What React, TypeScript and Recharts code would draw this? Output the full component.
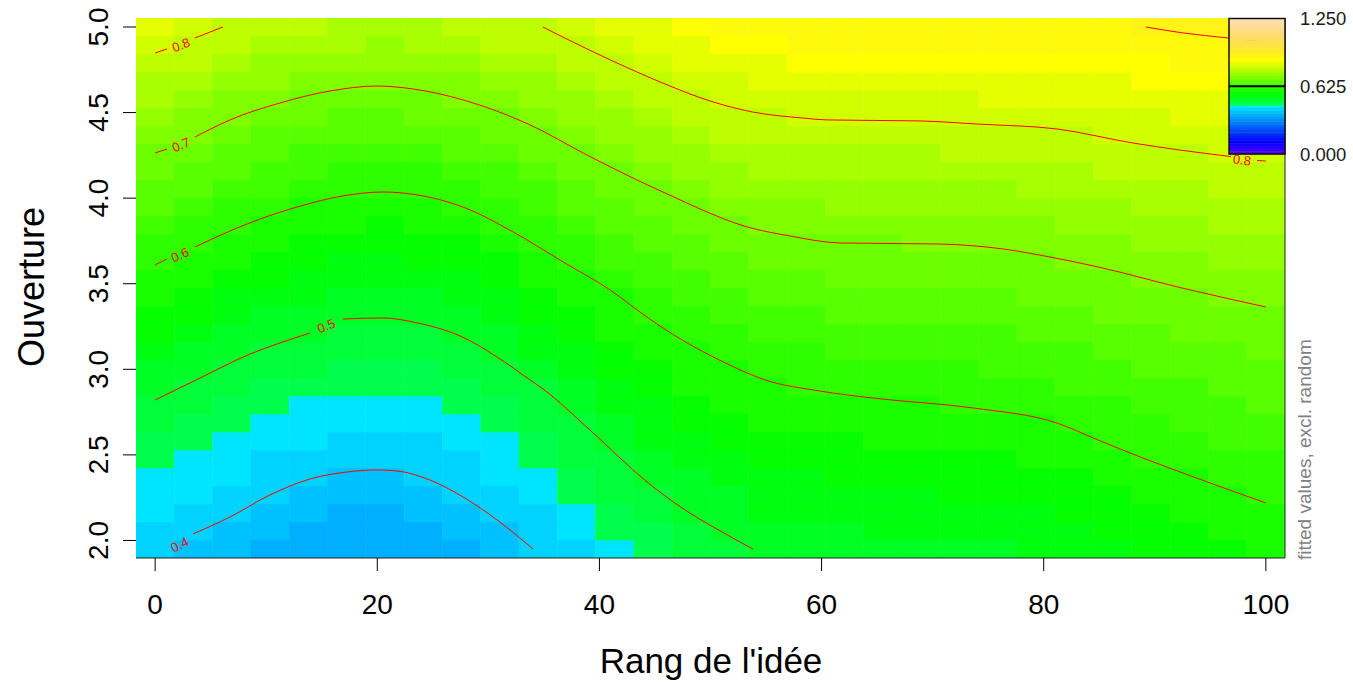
import React from 'react';
import { ComposedChart, XAxis, YAxis, Line, Scatter, ReferenceArea, ReferenceLine } from 'recharts';

const FONT = '"Liberation Sans", Arial, Helvetica, sans-serif';

// Grid of the fitted surface
const rangIdee = [0, 3.448, 6.897, 10.345, 13.793, 17.241, 20.69, 24.138, 27.586, 31.034, 34.483, 37.931, 41.379, 44.828, 48.276, 51.724, 55.172, 58.621, 62.069, 65.517, 68.966, 72.414, 75.862, 79.31, 82.759, 86.207, 89.655, 93.103, 96.552, 100];
const ouverture = [1.95, 2.055, 2.16, 2.266, 2.371, 2.476, 2.581, 2.686, 2.791, 2.897, 3.002, 3.107, 3.212, 3.317, 3.422, 3.528, 3.633, 3.738, 3.843, 3.948, 4.053, 4.159, 4.264, 4.369, 4.474, 4.579, 4.684, 4.79, 4.895, 5.0];

// Fitted values (excl. random effects): one row per rangIdee value, from lowest to highest ouverture
const fittedByRang = [
  [0.402, 0.414, 0.426, 0.438, 0.449, 0.461, 0.473, 0.485, 0.497, 0.510, 0.523, 0.536, 0.550, 0.563, 0.576, 0.590, 0.604, 0.620, 0.636, 0.652, 0.668, 0.684, 0.700, 0.718, 0.736, 0.754, 0.772, 0.790, 0.808, 0.826],
  [0.390, 0.402, 0.414, 0.425, 0.437, 0.449, 0.461, 0.473, 0.484, 0.496, 0.509, 0.523, 0.536, 0.550, 0.563, 0.577, 0.590, 0.605, 0.621, 0.637, 0.654, 0.669, 0.686, 0.702, 0.720, 0.738, 0.757, 0.775, 0.793, 0.811],
  [0.379, 0.390, 0.402, 0.414, 0.425, 0.437, 0.448, 0.460, 0.472, 0.483, 0.495, 0.508, 0.521, 0.535, 0.549, 0.563, 0.576, 0.590, 0.605, 0.621, 0.637, 0.653, 0.669, 0.686, 0.702, 0.721, 0.740, 0.758, 0.777, 0.796],
  [0.368, 0.378, 0.389, 0.400, 0.412, 0.424, 0.436, 0.448, 0.460, 0.472, 0.484, 0.496, 0.509, 0.523, 0.537, 0.551, 0.565, 0.579, 0.593, 0.608, 0.625, 0.641, 0.657, 0.674, 0.690, 0.708, 0.727, 0.747, 0.766, 0.786],
  [0.359, 0.370, 0.381, 0.391, 0.402, 0.414, 0.427, 0.439, 0.448, 0.463, 0.476, 0.488, 0.500, 0.514, 0.528, 0.542, 0.556, 0.570, 0.584, 0.598, 0.614, 0.631, 0.647, 0.664, 0.681, 0.697, 0.717, 0.737, 0.757, 0.777],
  [0.356, 0.364, 0.373, 0.386, 0.397, 0.409, 0.420, 0.432, 0.444, 0.456, 0.468, 0.479, 0.491, 0.504, 0.518, 0.533, 0.548, 0.562, 0.576, 0.591, 0.606, 0.623, 0.640, 0.657, 0.674, 0.691, 0.709, 0.730, 0.750, 0.770],
  [0.356, 0.364, 0.373, 0.385, 0.395, 0.407, 0.419, 0.431, 0.443, 0.455, 0.466, 0.478, 0.490, 0.502, 0.517, 0.531, 0.545, 0.560, 0.574, 0.588, 0.603, 0.620, 0.637, 0.654, 0.671, 0.688, 0.706, 0.726, 0.747, 0.768],
  [0.360, 0.369, 0.379, 0.389, 0.401, 0.412, 0.424, 0.436, 0.448, 0.459, 0.471, 0.483, 0.495, 0.508, 0.522, 0.536, 0.550, 0.564, 0.578, 0.592, 0.607, 0.624, 0.641, 0.658, 0.675, 0.692, 0.711, 0.732, 0.752, 0.773],
  [0.369, 0.379, 0.390, 0.401, 0.412, 0.423, 0.435, 0.446, 0.457, 0.469, 0.480, 0.491, 0.503, 0.517, 0.531, 0.545, 0.558, 0.572, 0.586, 0.600, 0.617, 0.634, 0.650, 0.667, 0.684, 0.701, 0.722, 0.743, 0.764, 0.785],
  [0.383, 0.394, 0.406, 0.417, 0.428, 0.439, 0.449, 0.461, 0.472, 0.483, 0.494, 0.506, 0.519, 0.533, 0.546, 0.560, 0.573, 0.587, 0.600, 0.616, 0.632, 0.648, 0.664, 0.680, 0.696, 0.716, 0.738, 0.759, 0.780, 0.795],
  [0.402, 0.413, 0.424, 0.435, 0.445, 0.456, 0.467, 0.477, 0.488, 0.499, 0.512, 0.525, 0.538, 0.551, 0.564, 0.577, 0.590, 0.603, 0.619, 0.634, 0.649, 0.664, 0.680, 0.695, 0.712, 0.729, 0.747, 0.764, 0.782, 0.799],
  [0.424, 0.435, 0.445, 0.455, 0.465, 0.476, 0.486, 0.496, 0.508, 0.520, 0.532, 0.545, 0.557, 0.569, 0.582, 0.594, 0.607, 0.622, 0.637, 0.652, 0.667, 0.682, 0.697, 0.713, 0.730, 0.748, 0.765, 0.782, 0.799, 0.817],
  [0.445, 0.455, 0.465, 0.476, 0.486, 0.496, 0.507, 0.518, 0.530, 0.541, 0.552, 0.564, 0.575, 0.586, 0.597, 0.611, 0.626, 0.640, 0.655, 0.669, 0.684, 0.698, 0.715, 0.732, 0.749, 0.765, 0.782, 0.799, 0.817, 0.835],
  [0.464, 0.474, 0.485, 0.495, 0.505, 0.516, 0.527, 0.538, 0.549, 0.560, 0.571, 0.582, 0.593, 0.605, 0.618, 0.632, 0.645, 0.659, 0.673, 0.686, 0.700, 0.716, 0.733, 0.749, 0.765, 0.782, 0.798, 0.815, 0.831, 0.847],
  [0.480, 0.490, 0.501, 0.511, 0.522, 0.533, 0.543, 0.554, 0.565, 0.575, 0.586, 0.596, 0.609, 0.622, 0.635, 0.648, 0.660, 0.673, 0.686, 0.699, 0.715, 0.731, 0.747, 0.763, 0.779, 0.796, 0.812, 0.828, 0.844, 0.860],
  [0.493, 0.503, 0.513, 0.524, 0.534, 0.545, 0.555, 0.565, 0.576, 0.586, 0.597, 0.608, 0.621, 0.634, 0.646, 0.659, 0.672, 0.684, 0.697, 0.712, 0.728, 0.743, 0.759, 0.775, 0.790, 0.807, 0.824, 0.841, 0.859, 0.876],
  [0.506, 0.516, 0.526, 0.536, 0.546, 0.556, 0.567, 0.577, 0.587, 0.597, 0.608, 0.620, 0.632, 0.644, 0.656, 0.668, 0.680, 0.691, 0.704, 0.720, 0.735, 0.751, 0.766, 0.782, 0.797, 0.814, 0.831, 0.849, 0.866, 0.883],
  [0.507, 0.518, 0.528, 0.538, 0.549, 0.559, 0.570, 0.580, 0.590, 0.600, 0.612, 0.624, 0.636, 0.648, 0.660, 0.672, 0.684, 0.696, 0.710, 0.725, 0.740, 0.756, 0.771, 0.786, 0.801, 0.820, 0.839, 0.857, 0.876, 0.895],
  [0.511, 0.522, 0.532, 0.542, 0.553, 0.563, 0.573, 0.583, 0.594, 0.605, 0.617, 0.629, 0.640, 0.652, 0.664, 0.676, 0.688, 0.700, 0.715, 0.729, 0.744, 0.759, 0.773, 0.788, 0.803, 0.822, 0.841, 0.859, 0.878, 0.897],
  [0.514, 0.525, 0.535, 0.545, 0.555, 0.566, 0.576, 0.586, 0.597, 0.608, 0.619, 0.631, 0.642, 0.654, 0.666, 0.677, 0.689, 0.700, 0.715, 0.730, 0.744, 0.759, 0.774, 0.788, 0.804, 0.822, 0.841, 0.860, 0.879, 0.897],
  [0.517, 0.527, 0.537, 0.547, 0.558, 0.568, 0.578, 0.589, 0.599, 0.610, 0.621, 0.633, 0.644, 0.655, 0.667, 0.678, 0.689, 0.701, 0.715, 0.730, 0.745, 0.759, 0.774, 0.789, 0.804, 0.823, 0.842, 0.860, 0.879, 0.898],
  [0.519, 0.529, 0.539, 0.550, 0.560, 0.570, 0.581, 0.591, 0.601, 0.612, 0.624, 0.635, 0.646, 0.657, 0.668, 0.680, 0.691, 0.702, 0.717, 0.732, 0.746, 0.761, 0.775, 0.790, 0.806, 0.825, 0.843, 0.862, 0.881, 0.898],
  [0.522, 0.532, 0.542, 0.553, 0.563, 0.573, 0.583, 0.594, 0.604, 0.615, 0.626, 0.637, 0.649, 0.660, 0.671, 0.682, 0.693, 0.705, 0.720, 0.734, 0.749, 0.763, 0.778, 0.793, 0.809, 0.828, 0.847, 0.865, 0.884, 0.898],
  [0.525, 0.535, 0.546, 0.556, 0.566, 0.577, 0.587, 0.597, 0.609, 0.620, 0.631, 0.642, 0.653, 0.664, 0.675, 0.686, 0.697, 0.710, 0.724, 0.738, 0.752, 0.767, 0.781, 0.795, 0.812, 0.831, 0.849, 0.868, 0.887, 0.898],
  [0.532, 0.542, 0.553, 0.563, 0.573, 0.583, 0.594, 0.604, 0.615, 0.626, 0.636, 0.647, 0.658, 0.669, 0.679, 0.690, 0.701, 0.715, 0.729, 0.743, 0.757, 0.771, 0.785, 0.799, 0.815, 0.831, 0.847, 0.864, 0.880, 0.896],
  [0.542, 0.552, 0.562, 0.572, 0.582, 0.592, 0.603, 0.613, 0.623, 0.634, 0.644, 0.654, 0.665, 0.675, 0.685, 0.695, 0.707, 0.721, 0.735, 0.749, 0.762, 0.776, 0.790, 0.804, 0.820, 0.835, 0.849, 0.867, 0.882, 0.898],
  [0.552, 0.562, 0.572, 0.582, 0.591, 0.601, 0.611, 0.621, 0.631, 0.641, 0.651, 0.661, 0.671, 0.681, 0.691, 0.701, 0.714, 0.728, 0.741, 0.755, 0.768, 0.782, 0.795, 0.810, 0.825, 0.840, 0.856, 0.871, 0.886, 0.901],
  [0.561, 0.571, 0.580, 0.590, 0.599, 0.609, 0.618, 0.628, 0.638, 0.648, 0.657, 0.667, 0.677, 0.686, 0.696, 0.708, 0.721, 0.734, 0.747, 0.760, 0.773, 0.786, 0.799, 0.814, 0.829, 0.845, 0.860, 0.875, 0.891, 0.906],
  [0.569, 0.579, 0.588, 0.597, 0.606, 0.616, 0.625, 0.635, 0.644, 0.654, 0.663, 0.672, 0.682, 0.691, 0.701, 0.714, 0.726, 0.739, 0.752, 0.764, 0.777, 0.790, 0.803, 0.818, 0.833, 0.848, 0.864, 0.879, 0.894, 0.909],
  [0.577, 0.586, 0.595, 0.604, 0.613, 0.622, 0.632, 0.641, 0.650, 0.659, 0.668, 0.678, 0.687, 0.696, 0.707, 0.719, 0.732, 0.744, 0.756, 0.769, 0.781, 0.793, 0.807, 0.822, 0.837, 0.852, 0.867, 0.882, 0.898, 0.913],
];

// Contour paths [rang, ouverture]; each level may be broken into pieces around its label
const contour04 = [[3.41, 2.038], [6.74, 2.137], [10.34, 2.266], [13.94, 2.359], [17.27, 2.4], [19.97, 2.412], [21.77, 2.406], [24.74, 2.353], [27.72, 2.254], [30.78, 2.12], [34.02, 1.95]];
const contour05a = [[0, 2.821], [4.04, 2.949], [8.54, 3.089], [11.24, 3.154], [13.94, 3.212]];
const contour05b = [[16.91, 3.294], [20.51, 3.3], [23.58, 3.271], [27.45, 3.195], [30.78, 3.072], [33.75, 2.938], [34.92, 2.885], [39.15, 2.645], [44.28, 2.342], [47.43, 2.19], [50.4, 2.073], [53.82, 1.95]];
const contour06a = [[0, 3.61], [1.07, 3.645]];
const contour06b = [[3.59, 3.715], [8.27, 3.849], [12.77, 3.948], [16.91, 4.013], [20.51, 4.036], [24.12, 4.013], [27.72, 3.948], [32.24, 3.802], [36.74, 3.627], [40.97, 3.463], [44.39, 3.3], [47.45, 3.171], [51.15, 3.043], [54.91, 2.938], [59.87, 2.873], [64.63, 2.832], [73.64, 2.774], [81.2, 2.686], [84.89, 2.587], [88.68, 2.488], [94.26, 2.353], [100, 2.219]];
const contour07a = [[0, 4.264], [1.07, 4.287]];
const contour07b = [[3.59, 4.357], [6.74, 4.457], [11.24, 4.556], [15.74, 4.626], [19.97, 4.655], [23.21, 4.638], [27.72, 4.574], [33.75, 4.428], [38.88, 4.252], [43.38, 4.106], [46.62, 4.009], [49.05, 3.937], [53.03, 3.837], [57.15, 3.779], [61.67, 3.738], [70.66, 3.732], [76.34, 3.703], [80.57, 3.656], [84.89, 3.598], [92.45, 3.475], [100, 3.364]];
const contour08a = [[0, 4.848], [1.07, 4.872]];
const contour08b = [[3.59, 4.936], [6.11, 5.0]];
const contour08c = [[34.9, 5.0], [38.88, 4.872], [43.38, 4.737], [46.35, 4.655], [49.95, 4.568], [53.82, 4.503], [58.33, 4.468], [60.49, 4.457], [68.86, 4.451], [74.0, 4.433], [81.2, 4.404], [88.04, 4.322], [92.27, 4.281], [96.86, 4.243]];
const contour08d = [[99.2, 4.22], [100, 4.217]];
const contour09 = [[89.2, 5.0], [92.56, 4.965], [96.58, 4.936], [100, 4.912]];

const contourLevels = [
  { level: 0.4, pieces: [contour04] },
  { level: 0.5, pieces: [contour05a, contour05b] },
  { level: 0.6, pieces: [contour06a, contour06b] },
  { level: 0.7, pieces: [contour07a, contour07b] },
  { level: 0.8, pieces: [contour08a, contour08b, contour08c, contour08d] },
  { level: 0.9, pieces: [contour09] },
];

// Where each contour level is written, with the text angle in degrees
const contourLabels = [
  { level: 0.4, x: 2.2, y: 1.975, angle: -26 },
  { level: 0.5, x: 15.41, y: 3.253, angle: -21 },
  { level: 0.6, x: 2.24, y: 3.668, angle: -25 },
  { level: 0.7, x: 2.33, y: 4.311, angle: -23 },
  { level: 0.8, x: 2.33, y: 4.895, angle: -21 },
  { level: 0.8, x: 97.85, y: 4.223, angle: 7 },
];

const xTicks = [0, 20, 40, 60, 80, 100];
const yTicks = [2, 2.5, 3, 3.5, 4, 4.5, 5];
const keyTicks = [0, 0.625, 1.25];
const zLimits = [0, 1.25];
const nColours = 50;

// R-style hsv() and topo.colors()
function hsv(h: number, s: number, v: number): string {
  const hh = (h * 6) % 6;
  const i = Math.floor(hh);
  const f = hh - i;
  const p = v * (1 - s);
  const q = v * (1 - s * f);
  const t = v * (1 - s * (1 - f));
  const rgb = [[v, t, p], [q, v, p], [p, v, t], [p, q, v], [t, p, v], [v, p, q]][i];
  return '#' + rgb.map((c) => Math.round(c * 255).toString(16).padStart(2, '0')).join('');
}
function seq(a: number, b: number, n: number): number[] {
  if (n === 1) return [a];
  return Array.from({ length: n }, (_, k) => a + ((b - a) * k) / (n - 1));
}
function topoColors(n: number): string[] {
  const j = Math.floor(n / 3);
  const k = Math.floor(n / 3);
  const i = n - j - k;
  const sat = seq(1, 0.3, k);
  return [
    ...seq(43 / 60, 31 / 60, i).map((h) => hsv(h, 1, 1)),
    ...seq(23 / 60, 11 / 60, j).map((h) => hsv(h, 1, 1)),
    ...seq(10 / 60, 6 / 60, k).map((h, m) => hsv(h, sat[m], 1)),
  ];
}
const palette = topoColors(nColours);
const colourOf = (v: number) => {
  const idx = Math.floor(((v - zLimits[0]) / (zLimits[1] - zLimits[0])) * nColours);
  return palette[Math.max(0, Math.min(nColours - 1, idx))];
};

// Cell edges half-way between neighbouring grid values
function cellEdges(v: number[]): [number, number][] {
  return v.map((c, i) => {
    const lo = i === 0 ? c - (v[1] - v[0]) / 2 : (v[i - 1] + c) / 2;
    const hi = i === v.length - 1 ? c + (v[i] - v[i - 1]) / 2 : (c + v[i + 1]) / 2;
    return [lo, hi];
  });
}
const xEdges = cellEdges(rangIdee);
const yEdges = cellEdges(ouverture);
const X_MIN = xEdges[0][0];
const X_MAX = xEdges[xEdges.length - 1][1];
const Y_MIN = yEdges[0][0];
const Y_MAX = yEdges[yEdges.length - 1][1];

const cells = fittedByRang.flatMap((col, i) =>
  col.map((v, j) => ({ x1: xEdges[i][0], x2: xEdges[i][1], y1: yEdges[j][0], y2: yEdges[j][1], fill: colourOf(v), key: `${i}-${j}` }))
);

const W = 1353;
const H = 682;
const PLOT_LEFT = 136;
const PLOT_RIGHT = 1285;
const PLOT_TOP = 18;
const PLOT_BOTTOM = 558;

const XTick = (p: any) => (
  <text x={p.x} y={PLOT_BOTTOM + 56} textAnchor="middle" fontSize={28} fontFamily={FONT} fill="#000">
    {p.payload.value}
  </text>
);
const YTick = (p: any) => (
  <text x={108} y={p.y} transform={`rotate(-90 108 ${p.y})`} textAnchor="middle" fontSize={28} fontFamily={FONT} fill="#000">
    {Number(p.payload.value).toFixed(1)}
  </text>
);
const LevelLabel = (p: any) => (
  <text
    x={p.cx}
    y={p.cy}
    transform={`rotate(${p.payload.angle} ${p.cx} ${p.cy})`}
    textAnchor="middle"
    dominantBaseline="central"
    fontSize={13}
    fontFamily={FONT}
    fill="#ff0000"
  >
    {p.payload.level.toFixed(1)}
  </text>
);

// Colour key in the top-right corner
const KEY = { x: 1229, y: 18.5, w: 56, h: 135.5 };
const keyY = (v: number) => KEY.y + KEY.h * (1 - (v - zLimits[0]) / (zLimits[1] - zLimits[0]));

export default function App() {
  const band = KEY.h / nColours;
  return (
    <div style={{ position: 'absolute', left: 0, top: 0, width: W, height: H, background: '#fff' }}>
      <ComposedChart width={W} height={H} margin={{ top: PLOT_TOP, right: W - PLOT_RIGHT, bottom: 0, left: 0 }}>
        <XAxis
          type="number"
          dataKey="x"
          domain={[X_MIN, X_MAX]}
          allowDataOverflow
          ticks={xTicks}
          interval={0}
          height={H - PLOT_BOTTOM}
          tickSize={13}
          axisLine={{ stroke: '#222', strokeWidth: 1 }}
          tickLine={{ stroke: '#000', strokeWidth: 1 }}
          tick={XTick}
        />
        <YAxis
          type="number"
          dataKey="y"
          domain={[Y_MIN, Y_MAX]}
          allowDataOverflow
          ticks={yTicks}
          interval={0}
          width={PLOT_LEFT}
          tickSize={13}
          axisLine={false}
          tickLine={{ stroke: '#000', strokeWidth: 1 }}
          tick={YTick}
        />
        {cells.map((c) => (
          <ReferenceArea
            key={c.key}
            x1={c.x1}
            x2={c.x2}
            y1={c.y1}
            y2={c.y2}
            fill={c.fill}
            fillOpacity={1}
            stroke={c.fill}
            strokeWidth={0.6}
            ifOverflow="hidden"
          />
        ))}
        {contourLevels.flatMap((lv) =>
          lv.pieces.map((piece, k) => (
            <Line
              key={`c${lv.level}-${k}`}
              data={piece.map(([x, y]) => ({ x, y }))}
              dataKey="y"
              type="monotoneX"
              stroke="#ff0000"
              strokeWidth={1}
              dot={false}
              activeDot={false}
              isAnimationActive={false}
              legendType="none"
            />
          ))
        )}
        <Scatter data={contourLabels} shape={LevelLabel} isAnimationActive={false} legendType="none" />
        <ReferenceLine x={X_MAX} stroke="#222" strokeWidth={1} ifOverflow="visible" />
      </ComposedChart>
      <svg width={W} height={H} style={{ position: 'absolute', left: 0, top: 0, pointerEvents: 'none' }}>
        {palette.map((col, b) => (
          <rect key={b} x={KEY.x} y={KEY.y + KEY.h - (b + 1) * band} width={KEY.w} height={band + 0.4} fill={col} />
        ))}
        <rect x={KEY.x} y={KEY.y} width={KEY.w} height={KEY.h} fill="none" stroke="#111" strokeWidth={1.5} />
        <line x1={KEY.x} x2={KEY.x + KEY.w} y1={keyY(keyTicks[1])} y2={keyY(keyTicks[1])} stroke="#000" strokeWidth={2} />
        {keyTicks.map((v) => (
          <text key={v} x={1300} y={keyY(v)} dominantBaseline="central" fontSize={18.5} fontFamily={FONT} fill="#1a1a1a">
            {v.toFixed(3)}
          </text>
        ))}
        <text x={1311} y={PLOT_BOTTOM + 2} transform={`rotate(-90 1311 ${PLOT_BOTTOM + 2})`} textAnchor="start" fontSize={19} fontFamily={FONT} fill="#808080">
          fitted values, excl. random
        </text>
        <text x={711} y={673} textAnchor="middle" fontSize={35} fontFamily={FONT} fill="#000">
          Rang de l'idée
        </text>
        <text x={44} y={287} transform="rotate(-90 44 287)" textAnchor="middle" fontSize={36} fontFamily={FONT} fill="#000">
          Ouverture
        </text>
      </svg>
    </div>
  );
}
